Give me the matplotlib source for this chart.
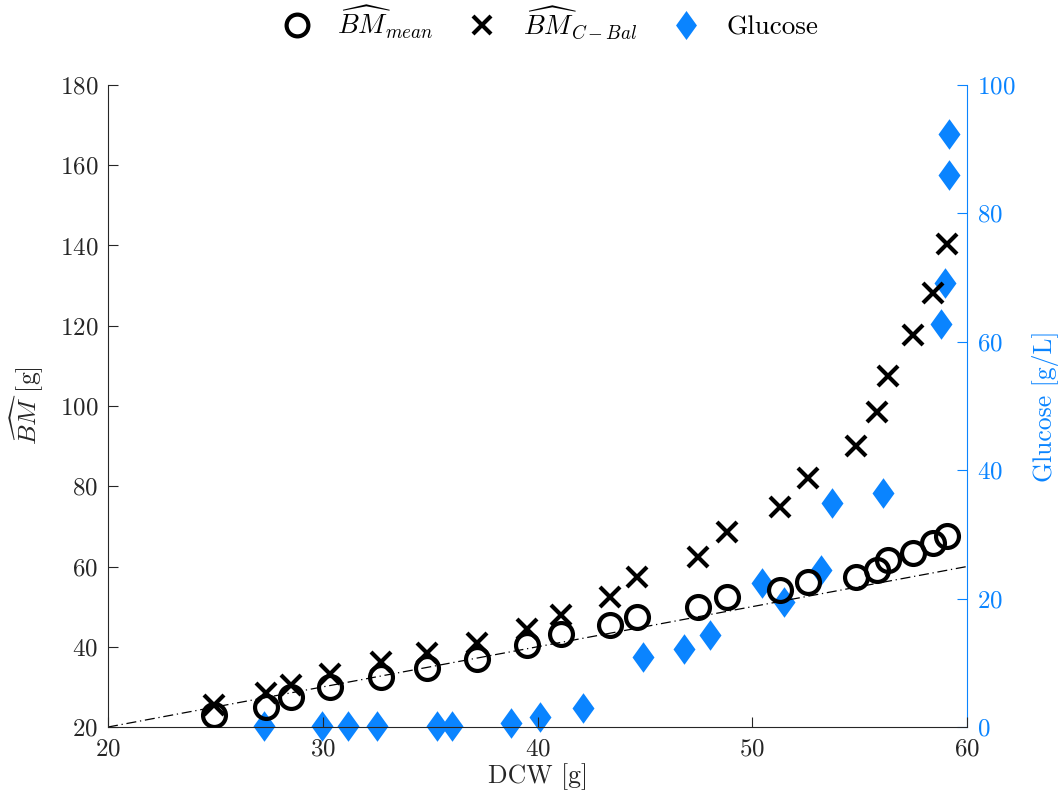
import matplotlib
matplotlib.use("Agg")
import matplotlib.pyplot as plt
import numpy as np

plt.rcParams['font.family'] = ['cmr10', 'DejaVu Serif']
plt.rcParams['mathtext.fontset'] = 'cm'
plt.rcParams['axes.formatter.use_mathtext'] = True

dcw = [24.94, 27.36, 28.52, 30.34, 32.71, 34.85, 37.18, 39.51, 41.09, 43.38, 44.63,
       47.47, 48.82, 51.29, 52.60, 54.83, 55.81, 56.32, 57.49, 58.42, 59.07]
bm_mean = [23.0, 25.0, 27.5, 30.0, 32.5, 34.7, 37.0, 40.4, 43.2, 45.4, 47.4,
           49.9, 52.4, 54.1, 56.1, 57.4, 59.1, 61.6, 63.4, 65.9, 67.6]
bm_cbal = [25.5, 28.5, 30.5, 33.2, 36.2, 38.4, 40.9, 44.4, 47.9, 52.4, 57.4,
           62.4, 68.6, 74.8, 82.1, 90.0, 98.5, 107.5, 117.7, 128.2, 140.4]

glc_x = [27.26, 29.97, 31.18, 32.53, 35.32, 36.02, 38.77, 40.12, 42.12, 44.91, 46.82,
         48.03, 50.45, 51.48, 53.20, 53.71, 56.09, 58.79, 58.98, 59.16, 59.16]
glc_y = [0.2, 0.2, 0.2, 0.2, 0.2, 0.2, 0.6, 1.6, 3.0, 10.9, 12.1,
         14.3, 22.4, 19.5, 24.5, 34.9, 36.4, 62.8, 69.2, 86.0, 92.4]

ref_line = [20, 60]
blue = '#0a84ff'
dark = '#262626'

fig = plt.figure(figsize=(10.61, 8.07), dpi=100)
ax = fig.add_axes([0.1018, 0.0991, 0.8096, 0.7956])
ax2 = ax.twinx()

ax.plot(ref_line, ref_line, color='black', lw=0.9, ls=(0, (8, 3, 1, 3)), zorder=1)
h1, = ax.plot(dcw, bm_mean, ls='none', marker='o', ms=16.5, mfc='none', mec='black', mew=3, zorder=3)
h2, = ax.plot(dcw, bm_cbal, ls='none', marker='x', ms=14, mec='black', mew=3, zorder=3)
diamond = [(0, 1), (0.72, 0), (0, -1), (-0.72, 0), (0, 1)]
h3, = ax2.plot(glc_x, glc_y, ls='none', marker=diamond, ms=22, mfc=blue, mec=blue, mew=0,
               zorder=2, clip_on=False)

ax.set_xlim(20, 60)
ax.set_ylim(20, 180)
ax2.set_ylim(0, 100)
ax.set_xticks([20, 30, 40, 50, 60])
ax.set_yticks(np.arange(20, 181, 20))
ax2.set_yticks(np.arange(0, 101, 20))

for a in (ax, ax2):
    a.spines['top'].set_visible(False)
ax.spines['right'].set_visible(False)
ax2.spines['left'].set_visible(False)
ax2.spines['bottom'].set_visible(False)
ax2.spines['right'].set_color(blue)
ax.spines['left'].set_color(dark)
ax.spines['bottom'].set_color(dark)

ax.tick_params(axis='both', direction='in', length=7, labelsize=18, colors=dark, pad=7)
ax.tick_params(axis='y', right=False)
ax.tick_params(axis='x', top=False, pad=8)
ax2.tick_params(axis='y', direction='in', length=7, labelsize=18, colors=blue, pad=7)

ax.set_xlabel('DCW [g]', fontsize=18.5, color=dark, labelpad=2)
ax.set_ylabel(r'$\widehat{BM}$ [g]', fontsize=18.5, color=dark, labelpad=10)
ax2.set_ylabel('Glucose [g/L]', fontsize=18.5, color=blue, labelpad=12)

ax.set_zorder(ax2.get_zorder() + 1)
ax.patch.set_visible(False)

fig.legend([h1, h2, h3], [r'$\widehat{BM}_{mean}$', r'$\widehat{BM}_{C-Bal}$', 'Glucose'],
           loc='center', bbox_to_anchor=(0.518, 1 - 22 / 807), ncol=3, frameon=False,
           fontsize=19.5, handlelength=1.2, columnspacing=1.2, handletextpad=0.9, markerscale=0.95)

fig.savefig('out.png', dpi=100)
